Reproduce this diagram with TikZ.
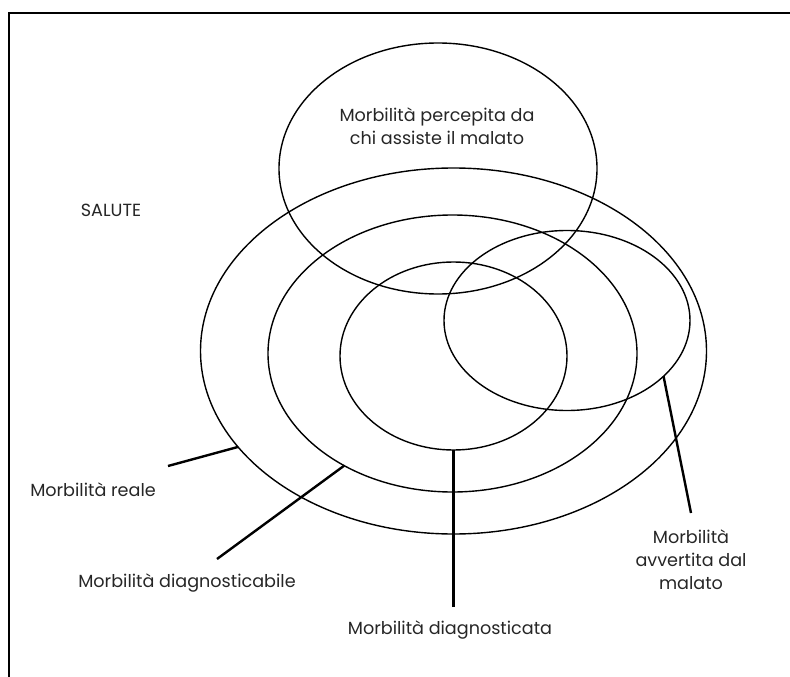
\documentclass[tikz,border=0pt]{standalone}
\usepackage{fontspec}
\setmainfont{Poppins}
\usetikzlibrary{shapes.geometric}
\tikzset{
  set/.style={ellipse, draw, line width=1.4pt, inner sep=0pt, outer sep=0pt},
  lab/.style={font=\fontsize{17.6}{23}\selectfont, text=black!85, align=center, inner sep=0pt},
  conn/.style={line width=2.4pt},
  frame/.style={line width=2pt}
}
\begin{document}
\begin{tikzpicture}[x=1pt,y=-1pt]
\useasboundingbox (0,0) rectangle (790,677);
\draw[frame] (790,13) -- (9,13) -- (9,677);
% sets
\node[set, minimum width=506pt, minimum height=366pt] (reale) at (453.5,351) {};
\node[set, minimum width=369pt, minimum height=277pt] (dgbile) at (452.5,353.5) {};
\node[set, minimum width=227pt, minimum height=188pt] (dgata) at (453.5,356) {};
\node[set, minimum width=246pt, minimum height=180pt] (avv) at (567,320.5) {};
\node[set, minimum width=318pt, minimum height=251pt] (perc) at (438,168.5) {};
% labels
\node[lab] (tperc) at (437,126) {Morbilità percepita da\\chi assiste il malato};
\node[lab] (tsal) at (111,210) {SALUTE};
\node[lab] (treale) at (93,490) {Morbilità reale};
\node[lab] (tdgbile) at (187,583) {Morbilità diagnosticabile};
\node[lab] (tdgata) at (450,630) {Morbilità diagnosticata};
\node[lab] (tavv) at (691,560) {Morbilità\\avvertita dal\\malato};
% connector ends
\coordinate (ereale) at (168,466);
\coordinate (edgbile) at (217,559);
\coordinate (edgata) at (453.5,607);
\coordinate (eavv) at (691,513);
\draw[conn] (ereale) -- (reale.204.3);
\draw[conn] (edgbile) -- (dgbile.226);
\draw[conn] (edgata) -- (dgata.270);
\draw[conn] (eavv) -- (avv.330);
\end{tikzpicture}
\end{document}
